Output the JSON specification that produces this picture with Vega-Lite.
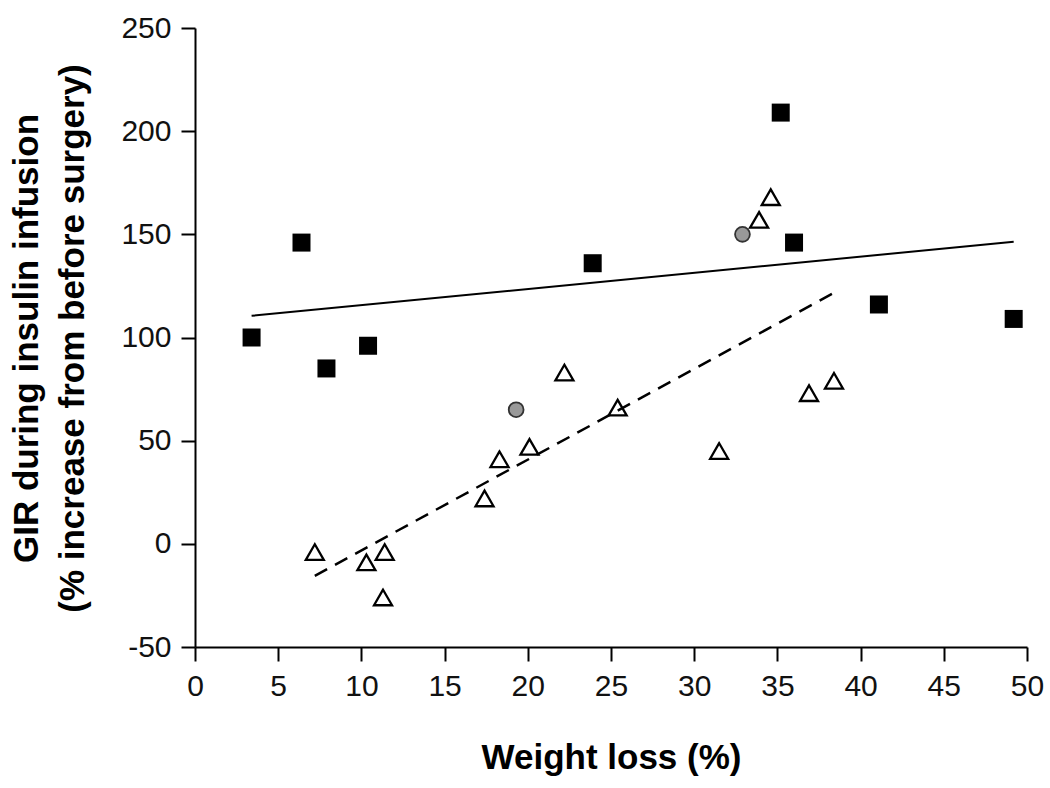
{
  "$schema": "https://vega.github.io/schema/vega-lite/v6.json",
  "width": 832,
  "height": 619,
  "autosize": {"type": "none"},
  "padding": {"left": 195, "top": 28, "right": 23, "bottom": 141},
  "background": "white",
  "config": {
    "view": {"stroke": null},
    "axis": {
      "grid": false,
      "domainColor": "#000000",
      "domainWidth": 2,
      "tickColor": "#000000",
      "tickWidth": 2,
      "tickSize": 14,
      "labelFont": "Liberation Sans",
      "labelFontSize": 30,
      "labelColor": "#111111",
      "labelFlush": false,
      "labelOverlap": false,
      "titleFont": "Liberation Sans",
      "titleFontWeight": "bold",
      "titleFontSize": 35,
      "titleColor": "#000000"
    }
  },
  "datasets": {
    "points": [
      {"group": "square", "weight_loss": 3.4, "gir": 100},
      {"group": "square", "weight_loss": 6.4, "gir": 146},
      {"group": "square", "weight_loss": 7.9, "gir": 85},
      {"group": "square", "weight_loss": 10.4, "gir": 96},
      {"group": "square", "weight_loss": 23.9, "gir": 136},
      {"group": "square", "weight_loss": 35.2, "gir": 209},
      {"group": "square", "weight_loss": 36.0, "gir": 146},
      {"group": "square", "weight_loss": 41.1, "gir": 116},
      {"group": "square", "weight_loss": 49.2, "gir": 109},
      {"group": "circle", "weight_loss": 32.9, "gir": 150},
      {"group": "circle", "weight_loss": 19.3, "gir": 65},
      {"group": "triangle", "weight_loss": 34.6, "gir": 168},
      {"group": "triangle", "weight_loss": 33.9, "gir": 157},
      {"group": "triangle", "weight_loss": 38.4, "gir": 79},
      {"group": "triangle", "weight_loss": 36.9, "gir": 73},
      {"group": "triangle", "weight_loss": 25.4, "gir": 66},
      {"group": "triangle", "weight_loss": 22.2, "gir": 83},
      {"group": "triangle", "weight_loss": 20.1, "gir": 47},
      {"group": "triangle", "weight_loss": 18.3, "gir": 41},
      {"group": "triangle", "weight_loss": 17.4, "gir": 22},
      {"group": "triangle", "weight_loss": 7.2, "gir": -4},
      {"group": "triangle", "weight_loss": 10.3, "gir": -9},
      {"group": "triangle", "weight_loss": 11.4, "gir": -4},
      {"group": "triangle", "weight_loss": 11.3, "gir": -26},
      {"group": "triangle", "weight_loss": 31.5, "gir": 45}
    ],
    "solid_fit": [
      {"weight_loss": 3.4, "gir": 110.5},
      {"weight_loss": 49.2, "gir": 146.4}
    ],
    "dashed_fit": [
      {"weight_loss": 7.2, "gir": -15.5},
      {"weight_loss": 38.4, "gir": 121.7}
    ]
  },
  "encoding": {
    "x": {
      "field": "weight_loss",
      "type": "quantitative",
      "scale": {"domain": [0, 50], "nice": false, "zero": false},
      "axis": {
        "title": "Weight loss (%)",
        "values": [0, 5, 10, 15, 20, 25, 30, 35, 40, 45, 50],
        "labelExpr": "toString(datum.value)",
        "labelPadding": 10,
        "titleBaseline": "alphabetic",
        "titleY": 121
      }
    },
    "y": {
      "field": "gir",
      "type": "quantitative",
      "scale": {"domain": [-50, 250], "nice": false, "zero": false},
      "axis": {
        "title": ["GIR during insulin infusion", "(% increase from before surgery)"],
        "values": [-50, 0, 50, 100, 150, 200, 250],
        "labelExpr": "toString(datum.value)",
        "labelPadding": 10,
        "titleBaseline": "alphabetic",
        "titleAngle": -90,
        "titleX": -158,
        "titleY": 310,
        "titleLineHeight": 46
      }
    }
  },
  "layer": [
    {
      "data": {"name": "points"},
      "transform": [{"filter": "datum.group === 'square'"}],
      "mark": {"type": "point", "shape": "square", "filled": true, "color": "#000000", "size": 324, "opacity": 1}
    },
    {
      "data": {"name": "points"},
      "transform": [{"filter": "datum.group === 'circle'"}],
      "mark": {"type": "point", "shape": "circle", "filled": true, "fill": "#999999", "stroke": "#333333", "strokeWidth": 1.8, "size": 220, "opacity": 1}
    },
    {
      "data": {"name": "points"},
      "transform": [{"filter": "datum.group === 'triangle'"}],
      "mark": {"type": "point", "shape": "triangle-up", "filled": false, "stroke": "#000000", "strokeWidth": 2.3, "size": 324, "opacity": 1}
    },
    {
      "data": {"name": "solid_fit"},
      "mark": {"type": "line", "color": "#000000", "strokeWidth": 2}
    },
    {
      "data": {"name": "dashed_fit"},
      "mark": {"type": "line", "color": "#000000", "strokeWidth": 2.5, "strokeDash": [14, 9]}
    }
  ]
}
